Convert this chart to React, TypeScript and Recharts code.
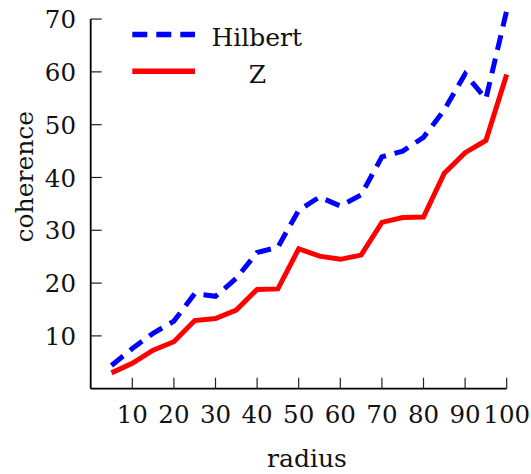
import React from 'react';
import { LineChart, Line, XAxis, YAxis, ReferenceLine, Legend, Label } from 'recharts';

const radius = [5, 10, 15, 20, 25, 30, 35, 40, 45, 50, 55, 60, 65, 70, 75, 80, 85, 90, 95, 100];
const hilbert = [4.4, 7.6, 10.5, 12.8, 18.0, 17.5, 20.9, 25.8, 26.8, 33.8, 36.3, 34.6, 36.7, 43.9, 45.0, 47.6, 52.8, 59.6, 54.9, 71.6];
const zValues = [3.0, 4.8, 7.3, 8.9, 12.9, 13.3, 14.9, 18.8, 18.9, 26.5, 25.1, 24.5, 25.3, 31.5, 32.4, 32.5, 40.8, 44.7, 47.0, 59.5];
const xTicks = [10, 20, 30, 40, 50, 60, 70, 80, 90, 100];
const yTicks = [10, 20, 30, 40, 50, 60, 70];
const seriesNames = ['Hilbert', 'Z'];

const data = radius.map((r, i) => ({ radius: r, hilbert: hilbert[i], z: zValues[i] }));

const FS = 25;
const txt = { fontFamily: '"DejaVu Serif", serif', fontSize: FS, fill: '#111' } as React.CSSProperties;
const tickTxt = { fontFamily: '"DejaVu Serif", serif', fontSize: 24.5, fill: '#111' } as React.CSSProperties;

const XTick = (props: any) => {
  const { x, y, payload } = props;
  return (
    <g>
      <line x1={x} x2={x} y1={y} y2={y - 11} stroke="#222" strokeWidth={1.2} />
      <text x={x} y={y + 34} textAnchor="middle" style={tickTxt}>
        {payload.value}
      </text>
    </g>
  );
};

const YTick = (props: any) => {
  const { x, y, payload } = props;
  return (
    <g>
      <line x1={x} x2={x + 11} y1={y} y2={y} stroke="#222" strokeWidth={1.2} />
      <text x={x - 14.7} y={y + 9.1} textAnchor="end" style={tickTxt}>
        {payload.value}
      </text>
    </g>
  );
};

const LegendContent = () => (
  <svg width={531} height={100} style={{ display: 'block' }}>
    <line x1={132.3} x2={195} y1={34.5} y2={34.5} stroke="#0000ff" strokeWidth={5.5} strokeDasharray="15 9" />
    <text x={256.7} y={46} textAnchor="middle" style={txt}>{seriesNames[0]}</text>
    <line x1={132.3} x2={195} y1={71.2} y2={71.2} stroke="#ff0000" strokeWidth={5.5} />
    <text x={257.5} y={83.3} textAnchor="middle" style={txt}>{seriesNames[1]}</text>
  </svg>
);

export default function App() {
  return (
    <div style={{ position: 'absolute', left: 0, top: 0, width: 531, height: 474, background: '#fff' }}>
      <LineChart
        width={531}
        height={474}
        data={data}
        margin={{ top: 8.5, right: 24.3, bottom: 0, left: 0 }}
      >
        <XAxis
          dataKey="radius"
          type="number"
          domain={[0, 100]}
          ticks={xTicks}
          interval={0}
          height={85.3}
          tickSize={0}
          tickMargin={0}
          tickLine={false}
          tick={<XTick />}
          axisLine={{ stroke: '#000', strokeWidth: 1.8 }}
        >
          <Label
            content={() => (
              <text x={307} y={466.7} textAnchor="middle" style={txt}>
                radius
              </text>
            )}
          />
        </XAxis>
        <YAxis
          type="number"
          domain={[0, 72]}
          ticks={yTicks}
          interval={0}
          width={90.7}
          tickSize={0}
          tickMargin={0}
          tickLine={false}
          tick={<YTick />}
          axisLine={false}
        >
          <Label
            content={() => (
              <text
                x={33}
                y={176.7}
                textAnchor="middle"
                transform="rotate(-90, 33, 176.7)"
                style={txt}
              >
                coherence
              </text>
            )}
          />
        </YAxis>
        <ReferenceLine
          segment={[{ x: 0, y: 0 }, { x: 0, y: 70 }]}
          stroke="#000"
          strokeWidth={1.8}
        />
        <Legend
          layout="vertical"
          align="center"
          verticalAlign="middle"
          content={<LegendContent />}
          wrapperStyle={{ position: 'absolute', left: 0, top: 0, width: 531, height: 100 }}
        />
        <Line
          type="linear"
          dataKey="z"
          name={seriesNames[1]}
          stroke="#ff0000"
          strokeWidth={5}
          dot={false}
          activeDot={false}
          isAnimationActive={false}
        />
        <Line
          type="linear"
          dataKey="hilbert"
          name={seriesNames[0]}
          stroke="#0000ff"
          strokeWidth={5}
          strokeDasharray="15 9"
          dot={false}
          activeDot={false}
          isAnimationActive={false}
        />
      </LineChart>
    </div>
  );
}
